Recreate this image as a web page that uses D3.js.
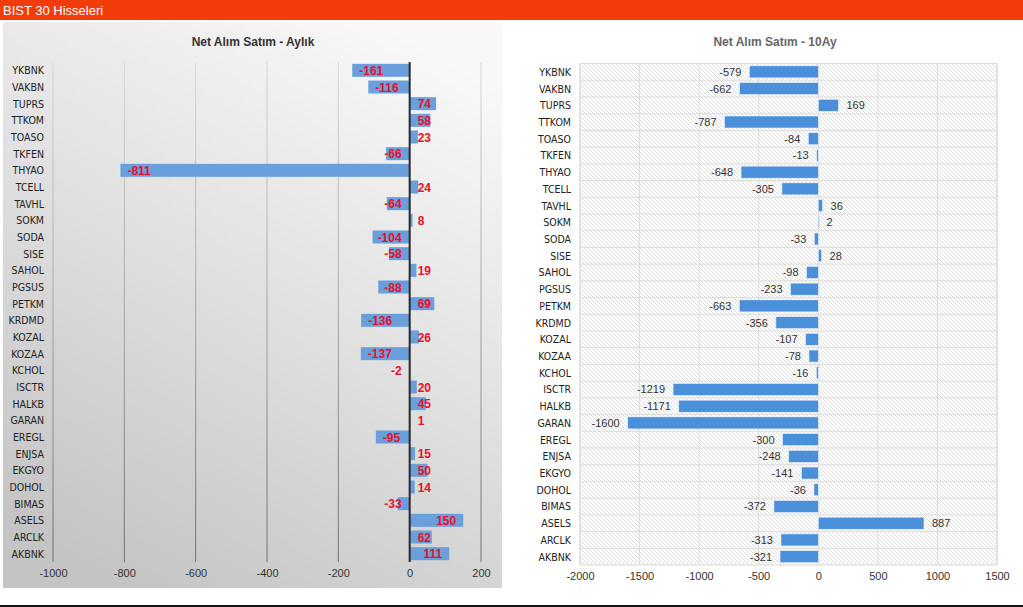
<!DOCTYPE html>
<html><head><meta charset="utf-8">
<script src="https://cdn.jsdelivr.net/npm/d3@7"></script>
<style>
html,body{margin:0;padding:0;background:#fff;}
svg{display:block;font-family:"Liberation Sans","DejaVu Sans",sans-serif;}
.cat{font-family:"DejaVu Sans Condensed","Liberation Sans Narrow","Liberation Sans",sans-serif;font-stretch:condensed;}
</style></head>
<body>
<svg id="c" width="1023" height="607"></svg>
<script>
const categories = ["YKBNK","VAKBN","TUPRS","TTKOM","TOASO","TKFEN","THYAO","TCELL","TAVHL","SOKM","SODA","SISE","SAHOL","PGSUS","PETKM","KRDMD","KOZAL","KOZAA","KCHOL","ISCTR","HALKB","GARAN","EREGL","ENJSA","EKGYO","DOHOL","BIMAS","ASELS","ARCLK","AKBNK"];
const monthly = [-161,-116,74,58,23,-66,-811,24,-64,8,-104,-58,19,-88,69,-136,26,-137,-2,20,45,1,-95,15,50,14,-33,150,62,111];
const tenMonth = [-579,-662,169,-787,-84,-13,-648,-305,36,2,-33,28,-98,-233,-663,-356,-107,-78,-16,-1219,-1171,-1600,-300,-248,-141,-36,-372,887,-313,-321];
const leftTicks = [-1000,-800,-600,-400,-200,0,200];
const rightTicks = [-2000,-1500,-1000,-500,0,500,1000,1500];
const headerTitle = "BIST 30 Hisseleri";
const leftTitle = "Net Alım Satım - Aylık";
const rightTitle = "Net Alım Satım - 10Ay";

const svg = d3.select("#c");
const defs = svg.append("defs");

const bg = defs.append("linearGradient").attr("id","lbg").attr("x1","0.75").attr("y1","0").attr("x2","0.25").attr("y2","1");
bg.append("stop").attr("offset","0").attr("stop-color","#f8f8f8");
bg.append("stop").attr("offset","0.45").attr("stop-color","#e2e2e2");
bg.append("stop").attr("offset","1").attr("stop-color","#c4c4c4");
const gg = defs.append("linearGradient").attr("id","lgrid").attr("gradientUnits","userSpaceOnUse").attr("x1",0).attr("y1",62).attr("x2",0).attr("y2",562);
gg.append("stop").attr("offset","0").attr("stop-color","#d8d8d8");
gg.append("stop").attr("offset","1").attr("stop-color","#707070");
const pat = defs.append("pattern").attr("id","hatch").attr("patternUnits","userSpaceOnUse").attr("width",4).attr("height",4);
pat.append("rect").attr("width",4).attr("height",4).attr("fill","#fff");
pat.append("path").attr("d","M-1,-1L5,5M-1,3L1,5M3,-1L5,1").attr("stroke","#d4d4d4").attr("stroke-width",0.8);

const fmt = d => String(d);

// header
svg.append("rect").attr("x",0).attr("y",0).attr("width",1023).attr("height",20).attr("fill","#f23d0a");
svg.append("text").attr("x",3).attr("y",15).attr("fill","#fff").attr("font-size",13).text(headerTitle);
svg.append("rect").attr("x",0).attr("y",605).attr("width",1023).attr("height",2).attr("fill","#111");

// ---------- Left chart ----------
svg.append("rect").attr("x",3).attr("y",22).attr("width",499).attr("height",566).attr("fill","url(#lbg)");
svg.append("text").attr("x",253).attr("y",46).attr("text-anchor","middle").attr("font-size",12).attr("font-weight","bold").attr("fill","#333").text(leftTitle);

const xL = d3.scaleLinear().domain([-1000,200]).range([53,481]);
const yL = d3.scaleBand().domain(categories).range([62,562]).paddingInner(0.22).paddingOuter(0.11);

const gL = svg.append("g");
gL.selectAll("line.grid").data(leftTicks).join("line")
  .attr("x1",d=>xL(d)).attr("x2",d=>xL(d)).attr("y1",62).attr("y2",562)
  .attr("stroke","url(#lgrid)").attr("stroke-width",1);
gL.selectAll("rect.bar").data(monthly).join("rect")
  .attr("x",d=>Math.min(xL(d),xL(0))).attr("width",d=>Math.abs(xL(d)-xL(0)))
  .attr("y",(d,i)=>yL(categories[i])).attr("height",yL.bandwidth())
  .attr("fill","#6a9fdb");
gL.append("line").attr("x1",xL(0)).attr("x2",xL(0)).attr("y1",62).attr("y2",562).attr("stroke","#2a2a2a").attr("stroke-width",2);
const lblL = gL.selectAll("text.val").data(monthly).join("text")
  .attr("y",(d,i)=>yL(categories[i])+yL.bandwidth()/2+4.5)
  .attr("font-size",12).attr("font-weight","bold").attr("fill","#e8102a")
  .text(fmt);
lblL.each(function(d){
  const w = this.getComputedTextLength();
  const x0 = xL(0), xe = xL(d);
  let start;
  if (d >= 0) start = Math.max(xe - 7 - w, x0 + 8);
  else start = Math.min(xe + 7 + w, x0 - 8) - w;
  d3.select(this).attr("x",start);
});
gL.selectAll("text.cat").data(categories).join("text").attr("class","cat")
  .attr("x",44).attr("y",d=>yL(d)+yL.bandwidth()/2+4)
  .attr("text-anchor","end").attr("font-size",10.5).attr("fill","#222").text(d=>d);
const axL = d3.axisBottom(xL).tickValues(leftTicks).tickSize(0).tickPadding(0).tickFormat(fmt);
const aL = svg.append("g").attr("transform","translate(0,569)").call(axL);
aL.select(".domain").remove();
aL.selectAll("text").attr("font-size",11).attr("fill","#333").attr("font-family","Liberation Sans, sans-serif").attr("dy","0.71em");

// ---------- Right chart ----------
svg.append("text").attr("x",775).attr("y",46).attr("text-anchor","middle").attr("font-size",12).attr("font-weight","bold").attr("fill","#666").text(rightTitle);
const xR = d3.scaleLinear().domain([-2000,1500]).range([580,997]);
const yR = d3.scaleBand().domain(categories).range([63.5,565]).paddingInner(0.28).paddingOuter(0.14);
const gR = svg.append("g");
gR.append("rect").attr("x",580).attr("y",63.5).attr("width",417).attr("height",565-63.5).attr("fill","url(#hatch)").attr("stroke","#d8d8d8");
gR.selectAll("line.v").data(rightTicks).join("line")
  .attr("x1",d=>xR(d)).attr("x2",d=>xR(d)).attr("y1",63.5).attr("y2",565).attr("stroke","#dcdcdc");
gR.selectAll("line.h").data(categories).join("line")
  .attr("x1",580).attr("x2",997)
  .attr("y1",d=>yR(d)-yR.step()*yR.paddingInner()/2).attr("y2",d=>yR(d)-yR.step()*yR.paddingInner()/2)
  .attr("stroke","#dcdcdc");
gR.selectAll("rect.bar").data(tenMonth).join("rect")
  .attr("x",d=>Math.min(xR(d),xR(0))).attr("width",d=>Math.max(1,Math.abs(xR(d)-xR(0))))
  .attr("y",(d,i)=>yR(categories[i])).attr("height",yR.bandwidth())
  .attr("fill","#4a8fd9").attr("stroke","#e8f0fa").attr("stroke-width",0.6);
gR.selectAll("text.val").data(tenMonth).join("text")
  .attr("x",d=>d>=0 ? xR(d)+8 : xR(d)-8)
  .attr("text-anchor",d=>d>=0?"start":"end")
  .attr("y",(d,i)=>yR(categories[i])+yR.bandwidth()/2+4)
  .attr("font-size",11).attr("fill","#333").text(fmt);
gR.selectAll("text.cat").data(categories).join("text").attr("class","cat")
  .attr("x",571).attr("y",d=>yR(d)+yR.bandwidth()/2+4)
  .attr("text-anchor","end").attr("font-size",10.5).attr("fill","#222").text(d=>d);
const axR = d3.axisBottom(xR).tickValues(rightTicks).tickSize(0).tickPadding(0).tickFormat(fmt);
const aR = svg.append("g").attr("transform","translate(0,572)").call(axR);
aR.select(".domain").remove();
aR.selectAll("text").attr("font-size",11).attr("fill","#333").attr("font-family","Liberation Sans, sans-serif").attr("dy","0.71em");
</script>
</body></html>
